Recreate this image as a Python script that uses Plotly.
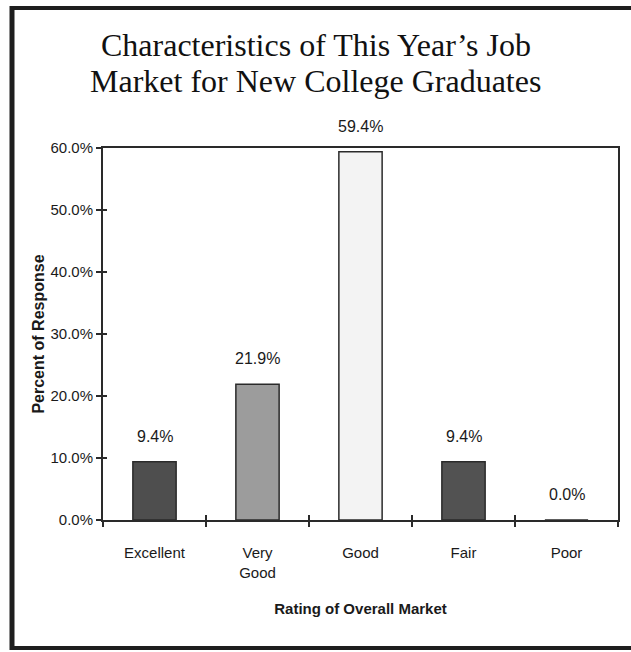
import plotly.graph_objects as go

# Survey results: rating of the overall job market
categories = ["Excellent", "Very Good", "Good", "Fair", "Poor"]
tick_labels = ["Excellent", "Very<br>Good", "Good", "Fair", "Poor"]
percent_response = [9.4, 21.9, 59.4, 9.4, 0.0]
bar_colors = ["#4e4e4e", "#9c9c9c", "#f3f3f3", "#525252", "#4e4e4e"]
y_ticks = [0, 10, 20, 30, 40, 50, 60]
y_tick_labels = [f"{v:.1f}%" for v in y_ticks]
title_lines = ["Characteristics of This Year\u2019s Job",
               "Market for New College Graduates"]

W, H = 631, 652
ML, MR, MT, MB = 103, 13, 148, 132
PW, PH = W - ML - MR, H - MT - MB

sans = "Liberation Sans, Arial, sans-serif"
axis_col = "#2a2a2a"


def px_x(px):
    return (px - ML) / PW


def px_y(py):
    return (H - MB - py) / PH


fig = go.Figure()
fig.add_trace(go.Bar(
    x=categories, y=percent_response, width=0.42,
    marker=dict(color=bar_colors, line=dict(color="#2a2a2a", width=1.5)),
    hoverinfo="skip", showlegend=False,
))
# inward half of the crossing tick marks
fig.add_trace(go.Bar(x=categories, y=[None] * 5, xaxis="x2", yaxis="y2",
                     showlegend=False, hoverinfo="skip"))

# value labels above each bar
for c, v in zip(categories, percent_response):
    fig.add_annotation(x=c, y=v, text=f"{v:.1f}%", showarrow=False,
                       yanchor="bottom", yshift=15,
                       font=dict(family=sans, size=16, color="#1a1a1a"))

# two-line title, one annotation per line for tighter leading
for line, py in zip(title_lines, [45, 81]):
    fig.add_annotation(xref="paper", yref="paper", x=px_x(315.5), y=px_y(py),
                       xanchor="center", yanchor="middle", showarrow=False,
                       text=line,
                       font=dict(family="Liberation Serif, DejaVu Serif, serif",
                                 size=32, color="#111"))

# outer frame
frame = dict(color="#1e1e1e", width=5)
fig.add_shape(type="line", xref="paper", yref="paper",
              x0=px_x(12), x1=px_x(12), y0=px_y(6), y1=px_y(650), line=frame)
fig.add_shape(type="line", xref="paper", yref="paper",
              x0=px_x(10), x1=px_x(640), y0=px_y(8), y1=px_y(8),
              line=dict(color="#1e1e1e", width=4))
fig.add_shape(type="line", xref="paper", yref="paper",
              x0=px_x(10), x1=px_x(640), y0=px_y(648), y1=px_y(648),
              line=dict(color="#1e1e1e", width=4))

fig.update_layout(
    width=W, height=H,
    margin=dict(l=ML, r=MR, t=MT, b=MB),
    paper_bgcolor="white", plot_bgcolor="white",
    bargap=0.58,
    xaxis=dict(
        categoryorder="array", categoryarray=categories,
        tickmode="array", tickvals=categories, ticktext=tick_labels,
        tickson="boundaries", ticks="outside", ticklen=5, tickwidth=1.5,
        tickcolor=axis_col, ticklabelstandoff=18,
        showline=True, linecolor=axis_col, linewidth=2, mirror=True,
        showgrid=False, zeroline=False,
        tickfont=dict(family=sans, size=15, color="#1a1a1a"),
        title=dict(text="<b>Rating of Overall Market</b>", standoff=24,
                   font=dict(family=sans, size=15, color="#1a1a1a")),
    ),
    yaxis=dict(
        range=[0, 60], tickmode="array", tickvals=y_ticks, ticktext=y_tick_labels,
        ticks="outside", ticklen=5, tickwidth=1.5, tickcolor=axis_col,
        showline=True, linecolor=axis_col, linewidth=2, mirror=True,
        showgrid=False, zeroline=False,
        tickfont=dict(family=sans, size=15, color="#1a1a1a"),
        title=dict(text="<b>Percent of Response</b>", standoff=2,
                   font=dict(family=sans, size=16, color="#1a1a1a")),
    ),
    xaxis2=dict(
        overlaying="x", matches="x", categoryorder="array", categoryarray=categories,
        tickmode="array", tickvals=categories, tickson="boundaries",
        ticks="inside", ticklen=5, tickwidth=1.5, tickcolor=axis_col,
        showticklabels=False, showgrid=False, zeroline=False, side="bottom",
    ),
    yaxis2=dict(
        overlaying="y", range=[0, 60], tickvals=y_ticks,
        ticks="inside", ticklen=4, tickwidth=1.5, tickcolor=axis_col,
        showticklabels=False, showgrid=False, zeroline=False, side="left",
    ),
)

fig.write_html("out.html")
